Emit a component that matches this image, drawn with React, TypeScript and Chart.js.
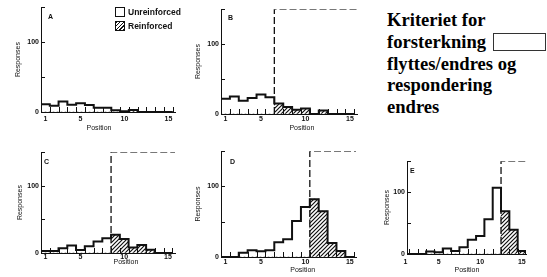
import React, { useEffect, useRef } from "react";
import { Chart, registerables } from "chart.js";

Chart.register(...registerables);

// ---------- data ----------
const positions = [1, 2, 3, 4, 5, 6, 7, 8, 9, 10, 11, 12, 13, 14, 15];
const xTickValues = [1, 5, 10, 15];
const yTickValues = [0, 50, 100, 150];
const yTickLabels = [0, 100];
const yMax = 150;

const unreinforcedA = [11, 9, 15, 10.5, 12.5, 10, 6, 6, 2.5, 0, 0, 0, 0, 0, 0];
const reinforcedA = [0, 0, 0, 0, 0, 0, 0, 0, 0, 1, 3, 0, 0, 0, 0];
const unreinforcedB = [22, 25, 19, 23, 28, 24, 0, 0, 0, 0, 0, 0, 0, 0, 0];
const reinforcedB = [0, 0, 0, 0, 0, 0, 15, 10, 6, 8, 0, 5, 0, 0, 0];
const unreinforcedC = [3, 3, 7, 11, 4.5, 10, 17, 22, 0, 0, 0, 0, 0, 0, 0];
const reinforcedC = [0, 0, 0, 0, 0, 0, 0, 0, 27, 21, 8, 12, 5, 0, 0];
const unreinforcedD = [0, 0, 6, 9.5, 8, 9.5, 21, 25, 51, 71, 0, 0, 0, 0, 0];
const reinforcedD = [0, 0, 0, 0, 0, 0, 0, 0, 0, 0, 82, 65, 20, 8.5, 0];
const unreinforcedE = [0, 0, 0, 4, 3, 9, 5, 11, 23, 29, 56, 107, 0, 0, 0];
const reinforcedE = [0, 0, 0, 0, 0, 0, 0, 0, 0, 0, 0, 0, 69, 39, 5];

// reinforcement criterion (bin boundary), null = none drawn
const criterionA: number | null = null;
const criterionB = 6.5;
const criterionC = 8.5;
const criterionD = 10.5;
const criterionE = 12.5;

const panelLetters = ["A", "B", "C", "D", "E"];
const legendLabels = ["Unreinforced", "Reinforced"];
const xTitle = "Position";
const yTitle = "Responses";
const sideTextLines = ["Kriteriet for", "forsterkning", "flyttes/endres og", "respondering", "endres"];

// ---------- layout (page pixels) ----------
type Panel = {
  letter: string;
  u: number[];
  r: number[];
  crit: number | null;
  area: [number, number, number, number]; // L, T, R, B
  xMin: number;
  xMax: number;
  tickPad: number;
  xTitleAt: number;
  xTitleDy: number;
  yTitlePad: number;
  letterDx: number;
  letterDy: number;
};

const panels: Panel[] = [
  { letter: panelLetters[0], u: unreinforcedA, r: reinforcedA, crit: criterionA, area: [41, 7, 175, 112], xMin: 0.5, xMax: 15.75, tickPad: 3, xTitleAt: 7.1, xTitleDy: 16, yTitlePad: 14, letterDx: 7, letterDy: 6 },
  { letter: panelLetters[1], u: unreinforcedB, r: reinforcedB, crit: criterionB, area: [221, 9, 357, 114], xMin: 0.5, xMax: 15.8, tickPad: 1, xTitleAt: 9.6, xTitleDy: 14, yTitlePad: 14, letterDx: 7, letterDy: 5 },
  { letter: panelLetters[2], u: unreinforcedC, r: reinforcedC, crit: criterionC, area: [41, 152, 175, 253], xMin: 0.5, xMax: 15.8, tickPad: 0, xTitleAt: 10.2, xTitleDy: 9, yTitlePad: 16, letterDx: 3, letterDy: 6 },
  { letter: panelLetters[3], u: unreinforcedD, r: reinforcedD, crit: criterionD, area: [221, 151, 356, 257], xMin: 0.5, xMax: 15.7, tickPad: 1, xTitleAt: 9.7, xTitleDy: 13.5, yTitlePad: 14, letterDx: 9, letterDy: 7 },
  { letter: panelLetters[4], u: unreinforcedE, r: reinforcedE, crit: criterionE, area: [407, 161, 526, 254], xMin: 1.2, xMax: 15.5, tickPad: 4, xTitleAt: 8.4, xTitleDy: 16.5, yTitlePad: 17, letterDx: 3, letterDy: 6 },
];

const Y_W = 41;
const PAD_T = 6;
const PAD_R = 4;
const X_H = 26;
const INK = "#111";
const SANS = '"Liberation Sans", Arial, sans-serif';

function geom(p: Panel) {
  const [L, T, R, B] = p.area;
  return { left: L - Y_W, top: T - PAD_T, width: R - L + Y_W + PAD_R, height: B - T + PAD_T + X_H };
}

function makeHatch(): CanvasPattern | string {
  const c = document.createElement("canvas");
  c.width = 4;
  c.height = 4;
  const g = c.getContext("2d");
  if (!g) return "#888";
  g.fillStyle = "#fff";
  g.fillRect(0, 0, 4, 4);
  g.strokeStyle = INK;
  g.lineWidth = 1.2;
  g.beginPath();
  g.moveTo(0, 4);
  g.lineTo(4, 0);
  g.moveTo(-1, 1);
  g.lineTo(1, -1);
  g.moveTo(3, 5);
  g.lineTo(5, 3);
  g.stroke();
  return g.createPattern(c, "repeat") || "#888";
}

function decorPlugin(p: Panel) {
  return {
    id: "decor" + p.letter,
    afterDatasetsDraw(chart: any) {
      const { ctx, chartArea } = chart;
      const x = chart.scales.x;
      const y = chart.scales.y;
      const base = y.getPixelForValue(0);
      ctx.save();
      ctx.strokeStyle = INK;
      ctx.lineWidth = 1;
      // inward ticks at bin boundaries
      for (const pos of positions) {
        const v = pos + 0.5;
        if (v <= x.min || v >= x.max) continue;
        const px = Math.round(x.getPixelForValue(v)) + 0.5;
        ctx.beginPath();
        ctx.moveTo(px, base);
        ctx.lineTo(px, base - 5);
        ctx.stroke();
      }
      // inward y ticks
      for (const v of yTickValues) {
        if (v === 0) continue;
        const py = Math.round(y.getPixelForValue(v)) + 0.5;
        ctx.beginPath();
        ctx.moveTo(chartArea.left, py);
        ctx.lineTo(chartArea.left + 4, py);
        ctx.stroke();
      }
      // panel letter
      ctx.fillStyle = INK;
      ctx.font = "bold 7px " + SANS;
      ctx.textBaseline = "top";
      ctx.textAlign = "left";
      ctx.fillText(p.letter, chartArea.left + p.letterDx, chartArea.top + p.letterDy);
      // x title
      ctx.font = "7px " + SANS;
      ctx.textAlign = "center";
      ctx.textBaseline = "middle";
      ctx.fillText(xTitle, x.getPixelForValue(p.xTitleAt), chartArea.bottom + p.xTitleDy);
      ctx.restore();
    },
  };
}

function buildConfig(p: Panel, hatch: CanvasPattern | string): any {
  const totals = positions.map((_, i) => p.u[i] + p.r[i]);
  const stepPoints = positions.map((pos, i) => ({ x: pos - 0.5, y: totals[i] }));
  stepPoints.push({ x: positions[positions.length - 1] + 0.5, y: 0 });

  const datasets: any[] = [
    {
      type: "line",
      label: legendLabels[0],
      data: stepPoints,
      stepped: true,
      borderColor: INK,
      borderWidth: 2,
      backgroundColor: "#fff",
      pointRadius: 0,
      fill: false,
      order: 1,
    },
    {
      type: "bar",
      label: legendLabels[1],
      data: positions.map((pos, i) => ({ x: pos, y: p.r[i] })),
      backgroundColor: hatch,
      borderWidth: 0,
      barPercentage: 1,
      categoryPercentage: 1,
      order: 3,
    },
  ];
  if (p.crit !== null) {
    datasets.push({
      type: "line",
      label: "criterion",
      data: [
        { x: p.crit, y: 0 },
        { x: p.crit, y: yMax },
        { x: p.xMax, y: yMax },
      ],
      borderColor: INK,
      borderWidth: 1.3,
      borderDash: [7, 3],
      pointRadius: 0,
      fill: false,
      order: 2,
    });
  }

  const tickFont = { family: SANS, size: 7, weight: "bold" };
  return {
    type: "bar",
    data: { datasets },
    options: {
      animation: false,
      responsive: false,
      devicePixelRatio: 1,
      layout: { padding: { top: PAD_T, right: PAD_R, left: 0, bottom: 0 } },
      plugins: { legend: { display: false }, tooltip: { enabled: false }, title: { display: false } },
      scales: {
        x: {
          type: "linear",
          min: p.xMin,
          max: p.xMax,
          offset: false,
          grid: { drawOnChartArea: false, drawTicks: false },
          border: { display: true, color: INK, width: 1 },
          ticks: { color: INK, font: tickFont, padding: p.tickPad, autoSkip: false, maxRotation: 0 },
          afterBuildTicks: (s: any) => {
            s.ticks = xTickValues.map((v) => ({ value: v }));
          },
          afterFit: (s: any) => {
            s.height = X_H;
          },
        },
        y: {
          min: 0,
          max: yMax,
          grid: { drawOnChartArea: false, drawTicks: false },
          border: { display: true, color: INK, width: 1 },
          ticks: {
            stepSize: 50,
            color: INK,
            font: tickFont,
            padding: 2,
            callback: (v: number) => (yTickLabels.includes(v) ? String(v) : ""),
          },
          title: {
            display: true,
            text: yTitle,
            color: INK,
            font: { family: SANS, size: 7 },
            padding: { top: p.yTitlePad, bottom: 0 },
          },
          afterFit: (s: any) => {
            s.width = Y_W;
          },
        },
      },
    },
    plugins: [decorPlugin(p)],
  };
}

export default function App() {
  const refs = useRef<(HTMLCanvasElement | null)[]>([]);

  useEffect(() => {
    const hatch = makeHatch();
    const charts = panels.map((p, i) => new Chart(refs.current[i] as HTMLCanvasElement, buildConfig(p, hatch)));
    return () => charts.forEach((c) => c.destroy());
  }, []);

  const legendFont = "bold 8.5px " + SANS;
  return (
    <div style={{ position: "absolute", left: 0, top: 0, width: 547, height: 277, background: "#fff", overflow: "hidden" }}>
      {panels.map((p, i) => {
        const g = geom(p);
        return (
          <canvas
            key={p.letter}
            ref={(el) => {
              refs.current[i] = el;
            }}
            width={g.width}
            height={g.height}
            style={{ position: "absolute", left: g.left, top: g.top, width: g.width, height: g.height }}
          />
        );
      })}
      {/* legend */}
      <div style={{ position: "absolute", left: 115, top: 7, width: 10, height: 10, border: "1.5px solid " + INK, boxSizing: "border-box", background: "#fff" }} />
      <div style={{ position: "absolute", left: 128, top: 7, font: legendFont, lineHeight: "10px", color: INK, whiteSpace: "nowrap" }}>{legendLabels[0]}</div>
      <div
        style={{
          position: "absolute",
          left: 115,
          top: 21,
          width: 10,
          height: 10,
          border: "1px solid " + INK,
          boxSizing: "border-box",
          background: "repeating-linear-gradient(135deg, #111 0 1px, #fff 1px 2.5px)",
        }}
      />
      <div style={{ position: "absolute", left: 128, top: 21, font: legendFont, lineHeight: "10px", color: INK, whiteSpace: "nowrap" }}>{legendLabels[1]}</div>
      {/* side text */}
      <div
        style={{
          position: "absolute",
          left: 387,
          top: 9,
          fontFamily: '"Liberation Serif", "Times New Roman", serif',
          fontWeight: "bold",
          fontSize: "18.6px",
          lineHeight: "21.8px",
          color: "#000",
          whiteSpace: "nowrap",
        }}
      >
        {sideTextLines.map((t, i) => (
          <div key={i}>{t}</div>
        ))}
      </div>
      <div style={{ position: "absolute", left: 493, top: 33, width: 53, height: 18, border: "1px solid #333", boxSizing: "border-box" }} />
    </div>
  );
}
